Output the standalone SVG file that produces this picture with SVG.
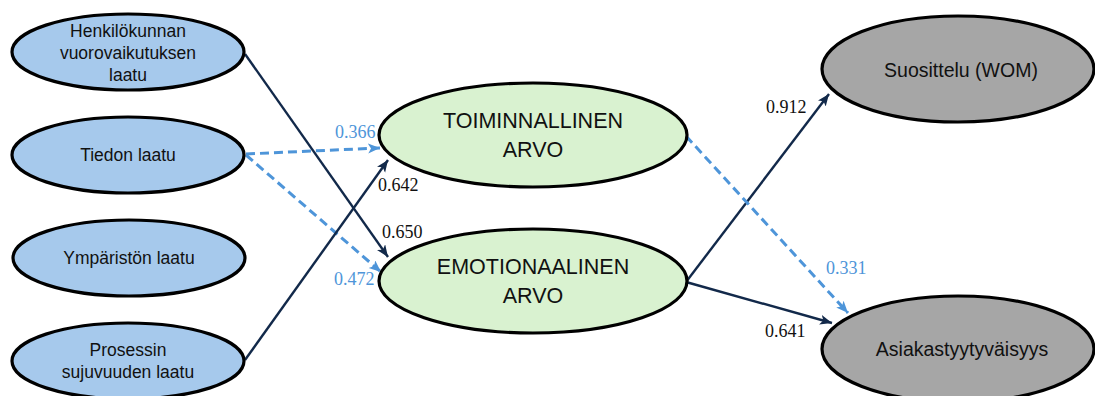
<svg xmlns="http://www.w3.org/2000/svg" width="1095" height="396" viewBox="0 0 1095 396">
  <style>
    .node { stroke: #000; stroke-width: 3.2; }
    .src { fill: #a6c9ec; }
    .mid { fill: #d9f2d0; }
    .out { fill: #a6a6a6; }
    .lbl { font-family: "Liberation Sans", Arial, sans-serif; fill: #111; text-anchor: middle; }
    .s { font-size: 17.5px; }
    .m { font-size: 21.5px; }
    .o { font-size: 19.5px; }
    .solid { stroke: #12294a; stroke-width: 2.4; fill: none; marker-end: url(#headDark); }
    .dash { stroke: #4e95d9; stroke-width: 3; fill: none; stroke-dasharray: 9 5; marker-end: url(#headBlue); }
    .coef { font-family: "Liberation Serif", "Times New Roman", serif; font-size: 18px; }
    .dark { fill: #111; }
    .blue { fill: #4e95d9; }
  </style>
  <defs>
    <marker id="headDark" markerUnits="userSpaceOnUse" markerWidth="14" markerHeight="12" refX="12" refY="5" orient="auto">
      <path d="M0,0 L12,5 L0,10 L3,5 z" fill="#12294a"/>
    </marker>
    <marker id="headBlue" markerUnits="userSpaceOnUse" markerWidth="14" markerHeight="12" refX="12" refY="5" orient="auto">
      <path d="M0,0 L12,5 L0,10 L3,5 z" fill="#4e95d9"/>
    </marker>
  </defs>

  <!-- connectors -->
  <g id="connectors">
    <line class="solid" x1="245" y1="54" x2="388" y2="257"/>
    <line class="dash" x1="246" y1="154" x2="380" y2="148"/>
    <line class="dash" x1="246" y1="155" x2="381" y2="272"/>
    <line class="solid" x1="245" y1="360" x2="388" y2="160"/>
    <line class="solid" x1="686" y1="282" x2="829" y2="94"/>
    <line class="solid" x1="686" y1="282" x2="832" y2="323"/>
    <line class="dash" x1="686" y1="136" x2="848" y2="313"/>
  </g>

  <!-- source constructs -->
  <g id="henkilokunta">
    <ellipse class="node src" cx="128" cy="52" rx="116" ry="38"/>
    <text class="lbl s" x="128" y="37">Henkilökunnan</text>
    <text class="lbl s" x="128" y="59">vuorovaikutuksen</text>
    <text class="lbl s" x="128" y="81">laatu</text>
  </g>
  <g id="tieto">
    <ellipse class="node src" cx="128" cy="155" rx="116" ry="38"/>
    <text class="lbl s" x="128" y="161">Tiedon laatu</text>
  </g>
  <g id="ymparisto">
    <ellipse class="node src" cx="129" cy="258" rx="116" ry="38"/>
    <text class="lbl s" x="129" y="264">Ympäristön laatu</text>
  </g>
  <g id="prosessi">
    <ellipse class="node src" cx="128" cy="361" rx="116" ry="38"/>
    <text class="lbl s" x="128" y="356">Prosessin</text>
    <text class="lbl s" x="128" y="378">sujuvuuden laatu</text>
  </g>

  <!-- value constructs -->
  <g id="toiminnallinen">
    <ellipse class="node mid" cx="533" cy="135" rx="154" ry="52"/>
    <text class="lbl m" x="533" y="128">TOIMINNALLINEN</text>
    <text class="lbl m" x="533" y="157">ARVO</text>
  </g>
  <g id="emotionaalinen">
    <ellipse class="node mid" cx="533" cy="281" rx="154" ry="52"/>
    <text class="lbl m" x="533" y="274">EMOTIONAALINEN</text>
    <text class="lbl m" x="533" y="303">ARVO</text>
  </g>

  <!-- outcome constructs -->
  <g id="suosittelu">
    <ellipse class="node out" cx="958" cy="69" rx="136" ry="53"/>
    <text class="lbl o" x="961" y="77">Suosittelu (WOM)</text>
  </g>
  <g id="tyytyvaisyys">
    <ellipse class="node out" cx="958" cy="349" rx="136" ry="53"/>
    <text class="lbl o" x="962" y="356">Asiakastyytyväisyys</text>
  </g>

  <!-- path coefficients -->
  <g id="coefficients">
    <text class="coef blue" x="335" y="138">0.366</text>
    <text class="coef dark" x="378" y="191">0.642</text>
    <text class="coef dark" x="382" y="238">0.650</text>
    <text class="coef blue" x="334" y="285">0.472</text>
    <text class="coef dark" x="766" y="113">0.912</text>
    <text class="coef blue" x="826" y="274">0.331</text>
    <text class="coef dark" x="765" y="337">0.641</text>
  </g>
</svg>
